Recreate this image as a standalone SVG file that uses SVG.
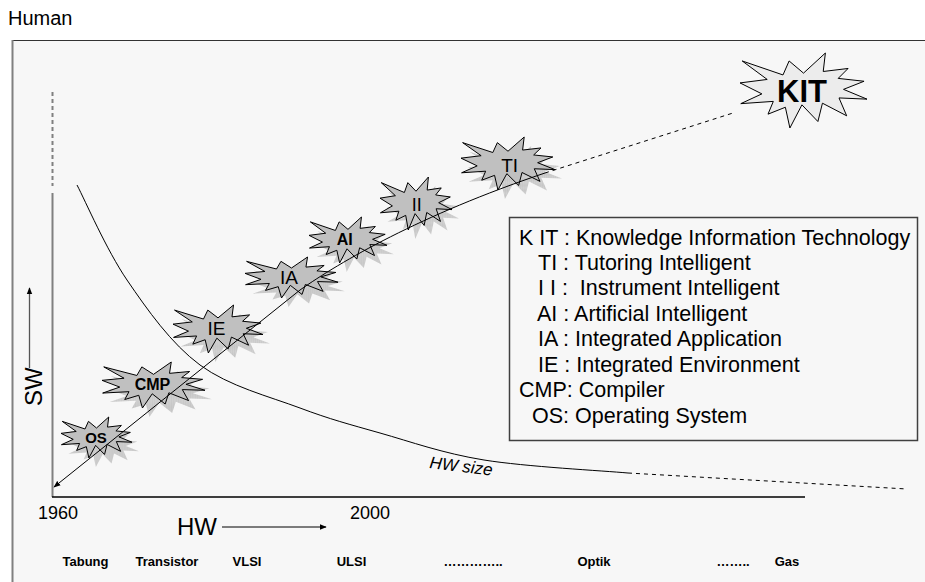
<svg xmlns="http://www.w3.org/2000/svg" xmlns:xlink="http://www.w3.org/1999/xlink" width="925" height="582" viewBox="0 0 925 582">
<style>
  text { font-family: "Liberation Sans", Arial, sans-serif; fill: #000; }
  .lbl { font-size: 21.5px; white-space: pre; }
  .bot { font-size: 13px; font-weight: bold; text-anchor: middle; }
  .star { fill: #c0c0c0; stroke: #000; stroke-width: 1; }
  .shadow { fill: url(#hatch); stroke: none; opacity: 0.9; }
  .st { text-anchor: middle; }
  .conn { fill: none; stroke: #000; stroke-width: 1; }
</style>
<defs>
  <path id="burst" vector-effect="non-scaling-stroke" d="M108,58 L145.22,0 L141.55,53.25 L183.8,44.57 L167.02,73.15 L210.97,81.37 L176.07,104.75 L216,132.9 L168.37,129.42 L181.45,180.95 L140.2,144.57 L132.47,197.37 L105.32,149.35 L84.85,216 L77.15,156.27 L47.62,176.17 L56.67,139.37 L1.35,145.87 L37.22,117.75 L0,86.15 L46.27,76.17 L3.7,22.95 L73.12,63.2 L83.52,22.95 Z"/>
  <pattern id="hatch" width="5" height="5" patternUnits="userSpaceOnUse">
    <rect width="5" height="5" fill="#cdcdcd"/>
    <path d="M0,0 H5 M0,0 V5" stroke="#adadad" stroke-width="1"/>
  </pattern>
  <marker id="arr" viewBox="0 0 10 10" refX="9" refY="5" markerWidth="7" markerHeight="7" orient="auto-start-reverse" markerUnits="userSpaceOnUse">
    <path d="M0,1 L10,5 L0,9 Z" fill="#000"/>
  </marker>
</defs>

<rect x="0" y="0" width="925" height="582" fill="#ffffff"/>
<rect x="12" y="40.5" width="930" height="560" fill="#f7f7f7"/>
<line x1="12" y1="40.5" x2="925" y2="40.5" stroke="#333" stroke-width="1"/>
<line x1="12.5" y1="40" x2="12.5" y2="582" stroke="#808080" stroke-width="2"/>

<text x="8" y="25" style="font-size:20px">Human</text>

<g id="axes">
  <line x1="52.5" y1="92" x2="52.5" y2="186" stroke="#808080" stroke-width="2" stroke-dasharray="4,3"/>
  <line x1="52.5" y1="193" x2="52.5" y2="497" stroke="#808080" stroke-width="2"/>
  <line x1="52" y1="497" x2="805" y2="497" stroke="#000" stroke-width="1.3"/>
  <text x="0" y="0" transform="translate(42,406) rotate(-90)" style="font-size:24px">SW</text>
  <line x1="29.5" y1="368" x2="29.5" y2="288" stroke="#555" stroke-width="1.3" marker-end="url(#arr)"/>
  <text x="177" y="535" style="font-size:24px">HW</text>
  <line x1="222" y1="527" x2="326" y2="527" stroke="#000" stroke-width="1" marker-end="url(#arr)"/>
  <text x="38" y="519" style="font-size:18px">1960</text>
  <text x="350" y="519" style="font-size:18px">2000</text>
</g>

<g id="tech-labels">
  <text class="bot" x="85.5" y="566">Tabung</text>
  <text class="bot" x="167" y="566">Transistor</text>
  <text class="bot" x="247" y="566">VLSI</text>
  <text class="bot" x="351.5" y="566">ULSI</text>
  <text class="bot" x="473" y="566">…………..</text>
  <text class="bot" x="594" y="566">Optik</text>
  <text class="bot" x="733" y="566">……..</text>
  <text class="bot" x="787" y="566">Gas</text>
</g>

<g id="node-OS">
  <use xlink:href="#burst" class="shadow" transform="translate(68,426) scale(0.3287,0.1898)"/>
  <use xlink:href="#burst" class="star" transform="translate(61,417) scale(0.3287,0.1898)"/>
  <text class="st" x="96" y="443" style="font-size:15px;font-weight:bold">OS</text>
</g>
<g id="node-CMP">
  <use xlink:href="#burst" class="shadow" transform="translate(109,371) scale(0.4769,0.2130)"/>
  <use xlink:href="#burst" class="star" transform="translate(102,362) scale(0.4769,0.2130)"/>
  <text class="st" x="152.5" y="390" style="font-size:16px;font-weight:bold">CMP</text>
</g>
<g id="node-IE">
  <use xlink:href="#burst" class="shadow" transform="translate(180,314) scale(0.4167,0.2222)"/>
  <use xlink:href="#burst" class="star" transform="translate(173,305) scale(0.4167,0.2222)"/>
  <text class="st" x="216.5" y="335" style="font-size:19px">IE</text>
</g>
<g id="node-IA">
  <use xlink:href="#burst" class="shadow" transform="translate(252,266) scale(0.4306,0.1898)"/>
  <use xlink:href="#burst" class="star" transform="translate(245,257) scale(0.4306,0.1898)"/>
  <text class="st" x="289" y="284" style="font-size:19px">IA</text>
</g>
<g id="node-AI">
  <use xlink:href="#burst" class="shadow" transform="translate(316,226) scale(0.3611,0.2130)"/>
  <use xlink:href="#burst" class="star" transform="translate(309,217) scale(0.3611,0.2130)"/>
  <text class="st" x="344.7" y="245" style="font-size:16px;font-weight:bold">AI</text>
</g>
<g id="node-II">
  <use xlink:href="#burst" class="shadow" transform="translate(387,186) scale(0.3333,0.2454)"/>
  <use xlink:href="#burst" class="star" transform="translate(380,177) scale(0.3333,0.2454)"/>
  <text class="st" x="416.7" y="210.5" style="font-size:18px">II</text>
</g>
<g id="node-TI">
  <use xlink:href="#burst" class="shadow" transform="translate(468,146) scale(0.4352,0.2454)"/>
  <use xlink:href="#burst" class="star" transform="translate(461,137) scale(0.4352,0.2454)"/>
  <text class="st" x="509.7" y="171.5" style="font-size:19px">TI</text>
</g>
<g id="node-KIT">
  <use xlink:href="#burst" class="star" style="fill:#ececec" transform="translate(740,53) scale(0.588,0.3472)"/>
  <text class="st" x="802" y="101.5" style="font-size:31px;font-weight:bold">KIT</text>
</g>

<g id="connectors">
  <path class="conn" marker-start="url(#arr)" d="M54,487 L300,290 C340,262 420,215 545,173"/>
  <path class="conn" stroke-dasharray="4,4" d="M545,173 L733,113"/>
  <path class="conn" d="M77,185 C85.3,200.8 106.5,250 127,280 C147.5,310 171.2,343.7 200,365 C228.8,386.3 270,396.7 300,408 C330,419.3 349.3,424.3 380,433 C410.7,441.7 442.7,453.3 484,460 C525.3,466.7 604,470.8 628,473"/>
  <path class="conn" stroke-dasharray="4,4" d="M628,473 L907,489"/>
  <text x="429" y="468" transform="rotate(7 429 468)" style="font-size:17px;font-style:italic">HW size</text>
</g>

<g id="legend">
  <rect x="509.5" y="217.5" width="408" height="223" fill="#f7f7f7" stroke="#404040" stroke-width="1.5"/>
  <text class="lbl" x="519" y="245">K IT : Knowledge Information Technology</text>
  <text class="lbl" x="538" y="270">TI : Tutoring Intelligent</text>
  <text class="lbl" x="538" y="295">I I :  Instrument Intelligent</text>
  <text class="lbl" x="537" y="321">AI : Artificial Intelligent</text>
  <text class="lbl" x="538" y="346">IA : Integrated Application</text>
  <text class="lbl" x="538" y="372">IE : Integrated Environment</text>
  <text class="lbl" x="519" y="397">CMP: Compiler</text>
  <text class="lbl" x="532" y="423">OS: Operating System</text>
</g>
</svg>
